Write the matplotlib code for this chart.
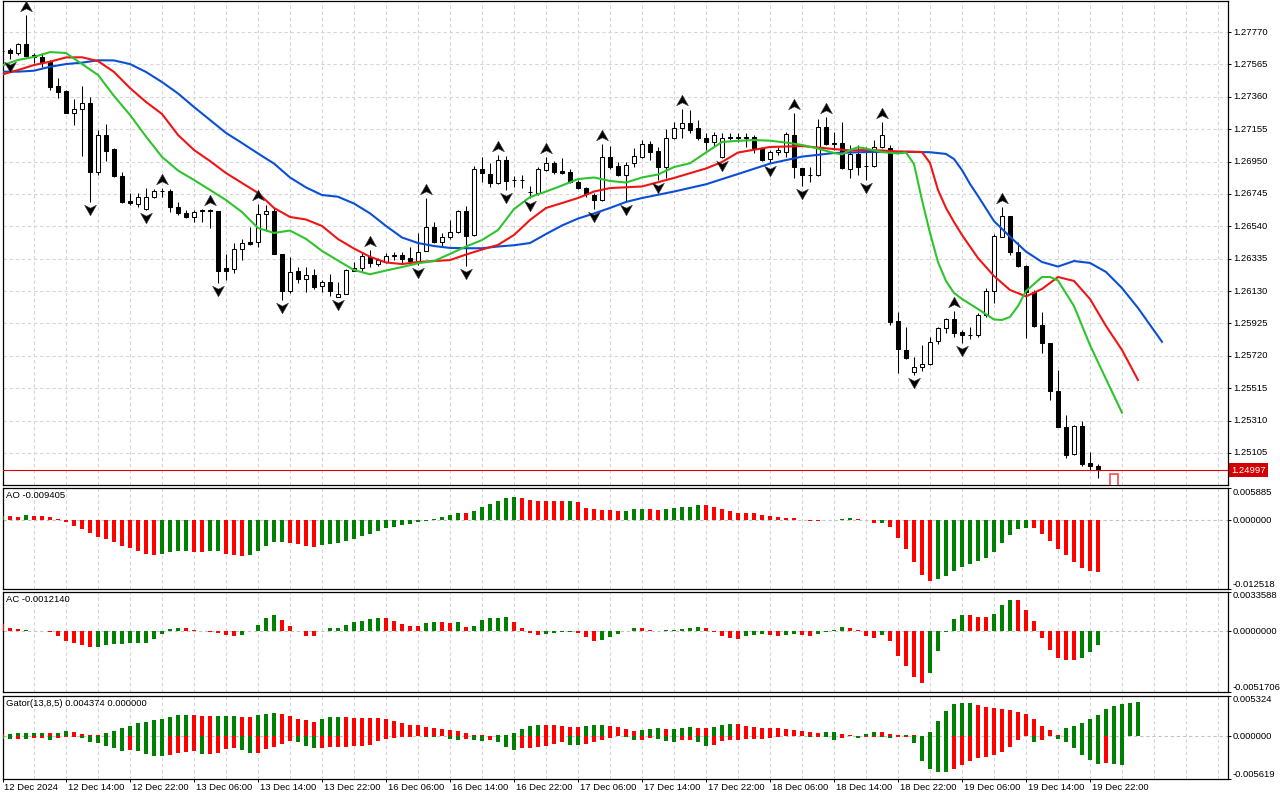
import matplotlib
matplotlib.use("Agg")
import matplotlib.pyplot as plt
import matplotlib.transforms as mtransforms
from matplotlib.path import Path

plt.rcParams['font.family'] = ['Liberation Sans', 'DejaVu Sans']
plt.rcParams['font.size'] = 6.8

# ------------------------------------------------------------------ data
time_labels = ["12 Dec 2024", "12 Dec 14:00", "12 Dec 22:00", "13 Dec 06:00", "13 Dec 14:00",
               "13 Dec 22:00", "16 Dec 06:00", "16 Dec 14:00", "16 Dec 22:00", "17 Dec 06:00",
               "17 Dec 14:00", "17 Dec 22:00", "18 Dec 06:00", "18 Dec 14:00", "18 Dec 22:00",
               "19 Dec 06:00", "19 Dec 14:00", "19 Dec 22:00"]
bars_per_label = 8

opens = [1.27650, 1.27656, 1.27635, 1.27694, 1.27624, 1.27612, 1.27582, 1.27428, 1.27398, 1.27259,
         1.27281, 1.27319, 1.26886, 1.27118, 1.27029, 1.26858, 1.26700, 1.26681, 1.26648, 1.26723,
         1.26763, 1.26765, 1.26660, 1.26622, 1.26601, 1.26639, 1.26640, 1.26639, 1.26274, 1.26268,
         1.26394, 1.26438, 1.26438, 1.26618, 1.26639, 1.26365, 1.26132, 1.26259, 1.26204, 1.26230,
         1.26162, 1.26185, 1.26094, 1.26109, 1.26259, 1.26274, 1.26347, 1.26301, 1.26316, 1.26354,
         1.26358, 1.26337, 1.26322, 1.26385, 1.26537, 1.26442, 1.26474, 1.26505, 1.26637, 1.26485,
         1.26901, 1.26871, 1.26816, 1.26960, 1.26833, 1.26836, 1.26760, 1.26749, 1.26896, 1.26939,
         1.26892, 1.26886, 1.26822, 1.26780, 1.26738, 1.26706, 1.26980, 1.26922, 1.26865, 1.26939,
         1.26980, 1.27059, 1.27017, 1.26917, 1.27097, 1.27160, 1.27192, 1.27160, 1.27097, 1.27076,
         1.26977, 1.27107, 1.27103, 1.27101, 1.27103, 1.27034, 1.26964, 1.27012, 1.27012, 1.27118,
         1.26907, 1.26865, 1.26865, 1.27171, 1.27065, 1.27065, 1.26901, 1.26998, 1.26923, 1.26922,
         1.27044, 1.27034, 1.25943, 1.25757, 1.25619, 1.25647, 1.25668, 1.25816, 1.25894, 1.25951,
         1.25873, 1.25852, 1.25852, 1.25979, 1.26130, 1.26474, 1.26605, 1.26379, 1.26289, 1.26126,
         1.25915, 1.25799, 1.25499, 1.25267, 1.25098, 1.25276, 1.25039, 1.25022]
highs = [1.27660, 1.27669, 1.27702, 1.27878, 1.27637, 1.27639, 1.27593, 1.27479, 1.27403, 1.27344,
         1.27428, 1.27357, 1.27150, 1.27188, 1.27037, 1.26884, 1.26749, 1.26749, 1.26780, 1.26774,
         1.26784, 1.26774, 1.26692, 1.26643, 1.26643, 1.26648, 1.26650, 1.26639, 1.26365, 1.26432,
         1.26457, 1.26537, 1.26681, 1.26675, 1.26654, 1.26365, 1.26347, 1.26284, 1.26284, 1.26268,
         1.26200, 1.26238, 1.26189, 1.26268, 1.26316, 1.26369, 1.26390, 1.26337, 1.26369, 1.26380,
         1.26380, 1.26411, 1.26495, 1.26717, 1.26569, 1.26495, 1.26580, 1.26643, 1.26668, 1.26922,
         1.26977, 1.26939, 1.26991, 1.26985, 1.26858, 1.26865, 1.26795, 1.26914, 1.26977, 1.26955,
         1.26970, 1.26901, 1.26833, 1.26791, 1.26749, 1.27061, 1.27050, 1.26944, 1.26949, 1.27033,
         1.27086, 1.27080, 1.27044, 1.27154, 1.27202, 1.27281, 1.27276, 1.27213, 1.27129, 1.27139,
         1.27129, 1.27129, 1.27129, 1.27129, 1.27118, 1.27044, 1.27023, 1.27044, 1.27139, 1.27255,
         1.26907, 1.26914, 1.27217, 1.27230, 1.27139, 1.27202, 1.27055, 1.27055, 1.27044, 1.27086,
         1.27202, 1.27055, 1.26000, 1.25900, 1.25714, 1.25788, 1.25841, 1.25904, 1.25957, 1.26004,
         1.25884, 1.25904, 1.25989, 1.26147, 1.26491, 1.26664, 1.26605, 1.26441, 1.26295, 1.26137,
         1.26000, 1.25799, 1.25630, 1.25345, 1.25282, 1.25309, 1.25113, 1.25035]
lows = [1.27640, 1.27599, 1.27624, 1.27614, 1.27574, 1.27550, 1.27403, 1.27354, 1.27257, 1.27181,
        1.26985, 1.26696, 1.26865, 1.26955, 1.26854, 1.26690, 1.26675, 1.26660, 1.26643, 1.26717,
        1.26723, 1.26629, 1.26611, 1.26591, 1.26569, 1.26569, 1.26527, 1.26183, 1.26200, 1.26246,
        1.26327, 1.26422, 1.26411, 1.26511, 1.26365, 1.26073, 1.26116, 1.26183, 1.26126, 1.26141,
        1.26126, 1.26099, 1.26090, 1.26109, 1.26259, 1.26259, 1.26284, 1.26289, 1.26310, 1.26327,
        1.26310, 1.26310, 1.26295, 1.26385, 1.26432, 1.26411, 1.26458, 1.26499, 1.26290, 1.26479,
        1.26822, 1.26787, 1.26808, 1.26770, 1.26787, 1.26780, 1.26719, 1.26738, 1.26892, 1.26871,
        1.26869, 1.26816, 1.26774, 1.26723, 1.26648, 1.26702, 1.26901, 1.26858, 1.26694, 1.26914,
        1.26970, 1.26960, 1.26833, 1.26846, 1.27091, 1.27097, 1.27133, 1.27086, 1.27023, 1.27044,
        1.26972, 1.27086, 1.27076, 1.27044, 1.27002, 1.26955, 1.26943, 1.26991, 1.26980, 1.26844,
        1.26795, 1.26822, 1.26858, 1.27055, 1.27023, 1.26901, 1.26844, 1.26865, 1.26833, 1.26914,
        1.27034, 1.25915, 1.25609, 1.25698, 1.25598, 1.25626, 1.25662, 1.25795, 1.25862, 1.25837,
        1.25801, 1.25825, 1.25840, 1.25968, 1.26052, 1.26470, 1.26358, 1.26281, 1.25831, 1.25904,
        1.25736, 1.25440, 1.25267, 1.25071, 1.25092, 1.25022, 1.24997, 1.24944]
closes = [1.27652, 1.27635, 1.27694, 1.27620, 1.27610, 1.27582, 1.27424, 1.27392, 1.27259, 1.27281,
          1.27319, 1.26886, 1.27118, 1.27019, 1.26858, 1.26696, 1.26686, 1.26723, 1.26723, 1.26763,
          1.26765, 1.26660, 1.26622, 1.26601, 1.26629, 1.26641, 1.26639, 1.26259, 1.26259, 1.26394,
          1.26432, 1.26426, 1.26618, 1.26639, 1.26365, 1.26132, 1.26253, 1.26204, 1.26230, 1.26158,
          1.26185, 1.26132, 1.26109, 1.26263, 1.26274, 1.26352, 1.26305, 1.26327, 1.26352, 1.26356,
          1.26333, 1.26322, 1.26379, 1.26537, 1.26438, 1.26474, 1.26505, 1.26637, 1.26479, 1.26901,
          1.26876, 1.26816, 1.26960, 1.26829, 1.26836, 1.26833, 1.26758, 1.26901, 1.26939, 1.26886,
          1.26879, 1.26822, 1.26780, 1.26744, 1.26706, 1.26980, 1.26917, 1.26865, 1.26928, 1.26985,
          1.27059, 1.27012, 1.26917, 1.27097, 1.27160, 1.27192, 1.27150, 1.27097, 1.27076, 1.27118,
          1.27097, 1.27097, 1.27101, 1.27103, 1.27034, 1.26960, 1.27012, 1.27023, 1.27124, 1.26913,
          1.26865, 1.26867, 1.27171, 1.27059, 1.27063, 1.26907, 1.26998, 1.26917, 1.26922, 1.27044,
          1.27118, 1.25936, 1.25761, 1.25704, 1.25647, 1.25668, 1.25809, 1.25894, 1.25951, 1.25866,
          1.25852, 1.25854, 1.25979, 1.26130, 1.26479, 1.26605, 1.26379, 1.26289, 1.26126, 1.25909,
          1.25799, 1.25499, 1.25271, 1.25092, 1.25276, 1.25035, 1.25022, 1.24997]
last_price = 1.24997
pending_bar_top = 1.24972

fractal_up = [3, 20, 26, 32, 46, 53, 62, 68, 75, 85, 99, 103, 110, 119, 125]
fractal_down = [1, 11, 18, 27, 35, 42, 52, 58, 63, 66, 74, 78, 82, 90, 96, 100, 108, 114, 120]

jaw_x = [0, 2, 4, 6, 8, 10, 12, 14, 16, 18, 20, 22, 24, 26, 28, 30, 32, 34, 36, 38,
         40, 42, 44, 46, 48, 50, 52, 54, 56, 58, 60, 62, 64, 66, 68, 70, 72, 74, 76, 78,
         80, 84, 88, 92, 96, 100, 104, 108, 112, 116, 118, 119, 120, 121, 122,
         124, 126, 128, 130, 132, 134, 136, 138, 140, 142, 145]
jaw_y = [1.27519, 1.27519, 1.27525, 1.27550, 1.27567, 1.27576, 1.27591, 1.27590, 1.27567, 1.27517,
         1.27453, 1.27381, 1.27295, 1.27213, 1.27131, 1.27067, 1.27001, 1.26937, 1.26849, 1.26786,
         1.26738, 1.26727, 1.26684, 1.26622, 1.26542, 1.26469, 1.26434, 1.26415, 1.26403, 1.26401,
         1.26401, 1.26412, 1.26420, 1.26434, 1.26491, 1.26545, 1.26589, 1.26621, 1.26656, 1.26694,
         1.26719, 1.26760, 1.26806, 1.26871, 1.26937, 1.26981, 1.27004, 1.27010, 1.27012, 1.27009,
         1.26998, 1.26966, 1.26896, 1.26808, 1.26732,
         1.26573, 1.26474, 1.26380, 1.26314, 1.26285, 1.26320, 1.26308, 1.26251, 1.26149, 1.26023, 1.25809]

teeth_x = [0, 2, 4, 6, 8, 10, 12, 14, 16, 18, 20, 22, 24, 26, 28, 30, 32, 34, 36, 38,
           40, 42, 44, 46, 48, 50, 52, 54, 56, 58, 60, 62, 64, 66, 68, 70, 72, 74, 76, 78,
           80, 84, 88, 90, 92, 96, 100, 104, 106, 108, 110, 112, 114, 115,
           116, 117, 118, 119, 120, 122, 124, 126, 128, 130, 132, 134, 136, 138, 140, 142]
teeth_y = [1.27501, 1.27529, 1.27561, 1.27582, 1.27609, 1.27610, 1.27586, 1.27517, 1.27415, 1.27327,
           1.27251, 1.27118, 1.27023, 1.26953, 1.26877, 1.26814, 1.26751, 1.26656, 1.26599, 1.26583,
           1.26542, 1.26459, 1.26399, 1.26347, 1.26311, 1.26301, 1.26314, 1.26320, 1.26326, 1.26361,
           1.26393, 1.26422, 1.26485, 1.26580, 1.26656, 1.26687, 1.26719, 1.26760, 1.26782, 1.26787,
           1.26792, 1.26846, 1.26906, 1.26947, 1.27007, 1.27042, 1.27048, 1.27029, 1.27020, 1.27023,
           1.27020, 1.27013, 1.27012, 1.27010,
           1.26941, 1.26770, 1.26656, 1.26567, 1.26485, 1.26339, 1.26225, 1.26137, 1.26096, 1.26143,
           1.26219, 1.26194, 1.26080, 1.25909, 1.25757, 1.25567]

lips_x = [0, 2, 4, 6, 8, 10, 12, 14, 16, 18, 20, 22, 24, 26, 28, 30, 32, 34, 36, 38,
          40, 42, 44, 46, 48, 50, 52, 54, 56, 58, 60, 62, 64, 66, 68, 70, 72, 74, 76, 78,
          80, 82, 84, 86, 88, 90, 92, 94, 96, 98, 100, 102, 104, 105, 106, 107, 108, 110, 112, 113,
          114, 115, 116, 117, 118, 119, 120, 122, 124, 125, 126, 127, 128, 130, 131, 132,
          134, 136, 138, 140]
lips_y = [1.27558, 1.27593, 1.27612, 1.27643, 1.27637, 1.27567, 1.27498, 1.27365, 1.27245, 1.27108,
          1.26979, 1.26893, 1.26833, 1.26770, 1.26706, 1.26630, 1.26529, 1.26498, 1.26513, 1.26460,
          1.26384, 1.26323, 1.26263, 1.26236, 1.26260, 1.26282, 1.26306, 1.26320, 1.26365, 1.26412,
          1.26453, 1.26516, 1.26649, 1.26725, 1.26760, 1.26798, 1.26839, 1.26849, 1.26827, 1.26817,
          1.26849, 1.26868, 1.26915, 1.26939, 1.27007, 1.27074, 1.27081, 1.27086, 1.27082, 1.27070,
          1.27055, 1.27032, 1.27004, 1.26995, 1.27023, 1.27040, 1.27032, 1.27010, 1.27001, 1.27007,
          1.26934, 1.26706, 1.26498, 1.26314, 1.26194, 1.26118, 1.26080, 1.26016, 1.25950, 1.25947,
          1.25966, 1.26035, 1.26130, 1.26219, 1.26219, 1.26197,
          1.26035, 1.25788, 1.25573, 1.25360]

price_ticks = [1.27770, 1.27565, 1.27360, 1.27155, 1.26950, 1.26745, 1.26540,
               1.26335, 1.26130, 1.25925, 1.25720, 1.25515, 1.25310, 1.25105]
price_range = (1.249021, 1.279663)

ao_values = [0.00084, 0.00084, 0.00060, 0.00088, 0.00084, 0.00080, 0.00060, 0.00018, -0.00036, -0.00096,
             -0.00163, -0.00235, -0.00313, -0.00349, -0.00397, -0.00476, -0.00512, -0.00566, -0.00620, -0.00632,
             -0.00620, -0.00584, -0.00566, -0.00560, -0.00578, -0.00580, -0.00560, -0.00558, -0.00620, -0.00638,
             -0.00650, -0.00632, -0.00560, -0.00476, -0.00403, -0.00397, -0.00421, -0.00433, -0.00476, -0.00494,
             -0.00458, -0.00439, -0.00415, -0.00373, -0.00343, -0.00295, -0.00241, -0.00187, -0.00132, -0.00114,
             -0.00090, -0.00072, -0.00024, -0.00012, 0.00030, 0.00066, 0.00102, 0.00138, 0.00136, 0.00175,
             0.00241, 0.00301, 0.00355, 0.00403, 0.00427, 0.00403, 0.00373, 0.00355, 0.00354, 0.00353,
             0.00352, 0.00356, 0.00331, 0.00229, 0.00199, 0.00187, 0.00186, 0.00169, 0.00175, 0.00211,
             0.00212, 0.00205, 0.00187, 0.00205, 0.00229, 0.00235, 0.00247, 0.00277, 0.00275, 0.00241,
             0.00211, 0.00175, 0.00138, 0.00132, 0.00126, 0.00096, 0.00078, 0.00060, 0.00048, 0.00042,
             0.00012, -0.00006, -0.00008, 0.00002, 0.00006, 0.00030, 0.00042, 0.00024, 0.00002, -0.00048,
             -0.00046, -0.00126, -0.00325, -0.00524, -0.00759, -0.00993, -0.01102, -0.01066, -0.01011, -0.00921,
             -0.00849, -0.00801, -0.00740, -0.00686, -0.00578, -0.00415, -0.00271, -0.00163, -0.00144, -0.00146,
             -0.00253, -0.00379, -0.00518, -0.00632, -0.00759, -0.00867, -0.00927, -0.009405]
ao_colors = ("GRRGRRRRRR" "RRRRRRRRRR" "GGGGRRGGRR" "RGGGGGRRRR" "GGGGGGGGGG"
             "GGGGGGGGRG" "GGGGGRRRRR" "RGRRRRRRGG" "GRRGGGGGRR" "RRRRRRRRRR"
             "RRRGGGGRRR" "GRRRRRRGGG" "GGGGGGGGGR" "RRRRRRRR")
ao_range = (-0.012518, 0.005885)

ac_values = [0.00057, 0.00028, 0.00014, 0.00012, 0.00004, -0.00001, -0.00009, -0.00043, -0.00085, -0.00102,
             -0.00122, -0.00139, -0.00137, -0.00114, -0.00113, -0.00112, -0.00102, -0.00101, -0.00100, -0.00071,
             -0.00026, 0.00014, 0.00028, 0.00027, 0.00011, 0.00001, -0.00006, -0.00017, -0.00037, -0.00046,
             -0.00034, -0.00001, 0.00048, 0.00114, 0.00134, 0.00091, 0.00040, -0.00002, -0.00043, -0.00046,
             -0.00003, 0.00023, 0.00028, 0.00048, 0.00077, 0.00085, 0.00100, 0.00108, 0.00107, 0.00085,
             0.00057, 0.00040, 0.00039, 0.00065, 0.00074, 0.00073, 0.00072, 0.00074, 0.00034, 0.00046,
             0.00091, 0.00108, 0.00109, 0.00117, 0.00074, 0.00023, -0.00014, -0.00034, -0.00023, -0.00014,
             -0.00006, -0.00005, -0.00017, -0.00051, -0.00085, -0.00077, -0.00051, -0.00026, -0.00003, 0.00023,
             0.00022, 0.00006, 0.00001, 0.00006, 0.00007, 0.00014, 0.00023, 0.00031, 0.00022, -0.00006,
             -0.00043, -0.00060, -0.00071, -0.00043, -0.00034, -0.00026, -0.00034, -0.00046, -0.00034, -0.00026,
             -0.00034, -0.00046, -0.00026, -0.00006, 0.00006, 0.00031, 0.00028, 0.00006, -0.00043, -0.00060,
             -0.00034, -0.00085, -0.00213, -0.00299, -0.00392, -0.00444, -0.00358, -0.00171, -0.00011, 0.00100,
             0.00134, 0.00133, 0.00119, 0.00118, 0.00142, 0.00222, 0.00262, 0.00261, 0.00176, 0.00085,
             -0.00063, -0.00162, -0.00225, -0.00247, -0.00248, -0.00225, -0.00179, -0.0012140]
ac_colors = ("RRRGRRRRRR" "RRGGGGGGGG" "GGGRRRRRRR" "GGGGGRRRRR" "GGGGGGGGRR"
             "RRRGGRRGRG" "GGGGRRRRGG" "GGRRRGGGGG" "RRRGGGGGRR" "RRRGGGRRGG"
             "RRGGGGRRRR" "GRRRRRGGGG" "GRRRGGGRRR" "RRRRRGGG")
ac_range = (-0.0051706, 0.0033588)

gator_up = [0.00026, 0.00031, 0.00040, 0.00044, 0.00044, 0.00044, 0.00044, 0.00040, 0.00061, 0.00057,
            0.00031, 0.00013, 0.00009, 0.00040, 0.00070, 0.00110, 0.00136, 0.00167, 0.00189, 0.00206,
            0.00228, 0.00255, 0.00281, 0.00282, 0.00272, 0.00270, 0.00259, 0.00261, 0.00268, 0.00270,
            0.00255, 0.00252, 0.00272, 0.00294, 0.00307, 0.00290, 0.00263, 0.00228, 0.00206, 0.00189,
            0.00220, 0.00246, 0.00255, 0.00252, 0.00241, 0.00240, 0.00239, 0.00238, 0.00224, 0.00202,
            0.00171, 0.00145, 0.00140, 0.00123, 0.00110, 0.00097, 0.00083, 0.00070, 0.00044, 0.00018,
            0.00009, 0.00002, 0.00018, 0.00019, 0.00044, 0.00097, 0.00136, 0.00149, 0.00148, 0.00147,
            0.00136, 0.00123, 0.00122, 0.00136, 0.00149, 0.00150, 0.00136, 0.00123, 0.00097, 0.00070,
            0.00083, 0.00097, 0.00110, 0.00097, 0.00098, 0.00110, 0.00123, 0.00110, 0.00109, 0.00123,
            0.00149, 0.00162, 0.00161, 0.00136, 0.00123, 0.00110, 0.00109, 0.00108, 0.00097, 0.00083,
            0.00070, 0.00057, 0.00044, 0.00057, 0.00058, 0.00031, 0.00009, 0.00001, 0.00031, 0.00057,
            0.00056, 0.00031, 0.00018, 0.00019, 0.00018, 0.00004, 0.00057, 0.00202, 0.00334, 0.00426,
            0.00439, 0.00440, 0.00413, 0.00386, 0.00373, 0.00360, 0.00347, 0.00320, 0.00294, 0.00228,
            0.00136, 0.00083, 0.00013, 0.00110, 0.00136, 0.00176, 0.00228, 0.00281, 0.00360, 0.00399,
            0.00422, 0.00436, 0.00449]
gator_up_colors = ("RGGGGGRGGR" "RRRGGGGGGG" "GGGGRRRGGG" "RRGGGRRRRR" "GGGRRRRRRR"
                   "RRRRRRRRRR" "RRGGGGGGRR" "RRRGGGRRRR" "GGGRGGGRRG" "GGRRRRRRRR"
                   "RRRGGRRRGG" "RRRGRRGGGG" "GGRRRRRRRR" "RRRGGGGGGG" "GGG")
gator_down = [-0.00040, -0.00044, -0.00044, -0.00044, -0.00031, -0.00031, -0.00057, -0.00031, -0.00009, -0.00009,
              -0.00031, -0.00075, -0.00088, -0.00127, -0.00158, -0.00193, -0.00176, -0.00189, -0.00233, -0.00255,
              -0.00259, -0.00241, -0.00215, -0.00202, -0.00198, -0.00237, -0.00236, -0.00215, -0.00167, -0.00154,
              -0.00180, -0.00220, -0.00215, -0.00171, -0.00136, -0.00097, -0.00066, -0.00083, -0.00127, -0.00158,
              -0.00154, -0.00145, -0.00144, -0.00136, -0.00135, -0.00127, -0.00114, -0.00061, -0.00044, -0.00022,
              -0.00018, -0.00009, -0.00004, -0.00005, -0.00009, -0.00004, -0.00044, -0.00057, -0.00044, -0.00045,
              -0.00070, -0.00057, -0.00083, -0.00149, -0.00176, -0.00162, -0.00161, -0.00136, -0.00123, -0.00097,
              -0.00083, -0.00110, -0.00111, -0.00097, -0.00083, -0.00057, -0.00026, -0.00004, -0.00018, -0.00057,
              -0.00056, -0.00031, -0.00044, -0.00070, -0.00071, -0.00057, -0.00056, -0.00083, -0.00123, -0.00110,
              -0.00070, -0.00057, -0.00053, -0.00044, -0.00040, -0.00039, -0.00031, -0.00018, -0.00004, -0.00002,
              -0.00001, -0.00013, -0.00009, -0.00018, -0.00057, -0.00031, -0.00002, -0.00031, -0.00018, -0.00009,
              -0.00018, -0.00031, -0.00018, -0.00009, -0.00088, -0.00320, -0.00426, -0.00465, -0.00466, -0.00426,
              -0.00373, -0.00320, -0.00281, -0.00268, -0.00241, -0.00202, -0.00149, -0.00057, -0.00004, -0.00083,
              -0.00057, -0.00004, -0.00044, -0.00083, -0.00162, -0.00241, -0.00307, -0.00360, -0.00347, -0.00360,
              -0.00373, -0.00002, -0.00001]
gator_down_colors = ("GGRGRRGRRR" "GGGGGGRGGG" "GRRRRGRRRR" "GGRRRRRGGG" "RRRRRRRRRR"
                     "RRRGGRGGRG" "GRGGGRRRRR" "RGGRRRRRGG" "RRGGGRRGGR" "RRRRRRRRRR"
                     "RGRGGRRGRR" "GGRRGGGGGR" "RRRRRRRRRG" "RRGGGGGGRG" "GRR")
gator_range = (-0.005619, 0.005324)

ao_title = "AO -0.009405"
ac_title = "AC -0.0012140"
gator_title = "Gator(13,8,5) 0.004374 0.000000"

# ------------------------------------------------------------------ layout
W, H = 1280, 800
fig = plt.figure(figsize=(W / 100, H / 100), dpi=100)
fig.patch.set_facecolor('white')


def add_pane(top, bottom, left=2.5, right=1227.5):
    return fig.add_axes([left / W, 1 - bottom / H, (right - left) / W, (bottom - top) / H])


ax = add_pane(1, 485)
ax_ao = add_pane(488, 589)
ax_ac = add_pane(591.5, 692)
ax_g = add_pane(695.5, 779)

GREEN = '#008000'
RED = '#FF0000'
GRID = '#D6D6D6'
GRID_LS = (0, (3, 2.5))
FS = 6.8
n = len(opens)
xlim = (0.06, 153.19)

for a in (ax, ax_ao, ax_ac, ax_g):
    a.set_xlim(*xlim)
    a.set_facecolor('white')
    for s in a.spines.values():
        s.set_color('black')
        s.set_linewidth(0.9)
    a.tick_params(axis='x', bottom=False, labelbottom=False)
    a.tick_params(axis='y', left=False, labelleft=False, right=True, labelright=False,
                  direction='out', length=2.2, width=0.7)
    for g in range(0, int(xlim[1]) + 1, 4):
        a.axvline(g, color=GRID, lw=0.8, ls=GRID_LS, zorder=0)


def right_labels(a, values, fmt, vas):
    tr = mtransforms.offset_copy(mtransforms.blended_transform_factory(a.transAxes, a.transData),
                                 fig=fig, x=5.5, y=0, units='dots')
    for v, va in zip(values, vas):
        a.text(1, v, fmt.format(v), transform=tr, ha='left', va=va, fontsize=FS, clip_on=False)


# ------------------------------------------------------------------ main pane
ax.set_ylim(*price_range)
ax.set_yticks(price_ticks)
for p in price_ticks:
    ax.axhline(p, color=GRID, lw=0.8, ls=GRID_LS, zorder=0)
right_labels(ax, price_ticks, "{:.5f}", ['center'] * len(price_ticks))

xs = list(range(n))
ax.vlines(xs, lows, highs, color='black', lw=0.75, zorder=2)
body_bottom = [min(o, c) for o, c in zip(opens, closes)]
body_height = [max(abs(c - o), 1e-7) for o, c in zip(opens, closes)]
body_face = ['white' if c >= o else 'black' for o, c in zip(opens, closes)]
ax.bar(xs, body_height, bottom=body_bottom, width=0.6, color=body_face,
       edgecolor='black', linewidth=0.75, zorder=3)

# pending (next) bar outline
ax.bar([n + 1], [pending_bar_top - price_range[0] + 0.0002], bottom=price_range[0] - 0.0002,
       width=0.9, facecolor='white', edgecolor='#F25C5C', linewidth=1.3, zorder=3)

ax.plot(jaw_x, jaw_y, color='#0A4FD6', lw=1.5, zorder=4, solid_joinstyle='round')
ax.plot(teeth_x, teeth_y, color='#F01414', lw=1.5, zorder=4, solid_joinstyle='round')
ax.plot(lips_x, lips_y, color='#2EC42E', lw=1.5, zorder=4, solid_joinstyle='round')

up_path = Path([(0, 0.8), (0.9, -0.8), (0, -0.35), (-0.9, -0.8), (0, 0.8)],
               [Path.MOVETO, Path.LINETO, Path.LINETO, Path.LINETO, Path.CLOSEPOLY])
down_path = Path([(0, -0.8), (0.9, 0.8), (0, 0.35), (-0.9, 0.8), (0, -0.8)],
                 [Path.MOVETO, Path.LINETO, Path.LINETO, Path.LINETO, Path.CLOSEPOLY])
up_tr = mtransforms.offset_copy(ax.transData, fig=fig, x=0, y=9, units='dots')
dn_tr = mtransforms.offset_copy(ax.transData, fig=fig, x=0, y=-8, units='dots')
ax.plot(fractal_up, [highs[i] for i in fractal_up], ls='none', marker=up_path, ms=8.5,
        color='black', mec='#3A3A3A', mew=0.4, transform=up_tr, zorder=5, clip_on=False)
ax.plot(fractal_down, [lows[i] for i in fractal_down], ls='none', marker=down_path, ms=8.5,
        color='black', mec='#3A3A3A', mew=0.4, transform=dn_tr, zorder=5)

ax.axhline(last_price, color='#E00000', lw=0.8, zorder=3)
ax.annotate(f"{last_price:.5f}", xy=(1, last_price), xycoords=('axes fraction', 'data'),
            xytext=(4, 0), textcoords='offset pixels', ha='left', va='center',
            fontsize=FS, color='white', annotation_clip=False,
            bbox=dict(boxstyle='square,pad=0.25', fc='#D20000', ec='none'))


# ------------------------------------------------------------------ indicator panes
def colorize(flags):
    return [GREEN if f == 'G' else RED for f in flags]


def setup_indicator(a, rng, fmt, title):
    a.set_ylim(*rng)
    a.set_yticks([rng[0], 0, rng[1]])
    a.axhline(0, color='#C4C4C4', lw=0.8, ls=GRID_LS, zorder=1)
    right_labels(a, [rng[1], 0.0, rng[0]], fmt, ['top', 'center', 'bottom'])
    a.annotate(title, xy=(0, 1), xycoords='axes fraction', xytext=(3.5, -3.5),
               textcoords='offset pixels', ha='left', va='top', fontsize=FS)


ax_ao.bar(range(len(ao_values)), ao_values, width=0.5, color=colorize(ao_colors), linewidth=0, zorder=3)
setup_indicator(ax_ao, ao_range, "{:.6f}", ao_title)

ax_ac.bar(range(len(ac_values)), ac_values, width=0.5, color=colorize(ac_colors), linewidth=0, zorder=3)
setup_indicator(ax_ac, ac_range, "{:.7f}", ac_title)

ax_g.bar(range(len(gator_up)), gator_up, width=0.5, color=colorize(gator_up_colors), linewidth=0, zorder=3)
ax_g.bar(range(len(gator_down)), gator_down, width=0.5, color=colorize(gator_down_colors), linewidth=0, zorder=3)
setup_indicator(ax_g, gator_range, "{:.6f}", gator_title)

# time axis
tick_idx = [k * bars_per_label for k in range(len(time_labels))]
ax_g.set_xticks(tick_idx)
ax_g.tick_params(axis='x', bottom=True, labelbottom=False, direction='out', length=2.2, width=0.7)
lbl_tr = mtransforms.offset_copy(mtransforms.blended_transform_factory(ax_g.transData, ax_g.transAxes),
                                 fig=fig, x=1.5, y=-4, units='dots')
for i, s in zip(tick_idx, time_labels):
    ax_g.text(i, 0, s, transform=lbl_tr, ha='left', va='top', fontsize=FS, clip_on=False)

fig.savefig("out.png", dpi=100, facecolor='white')
